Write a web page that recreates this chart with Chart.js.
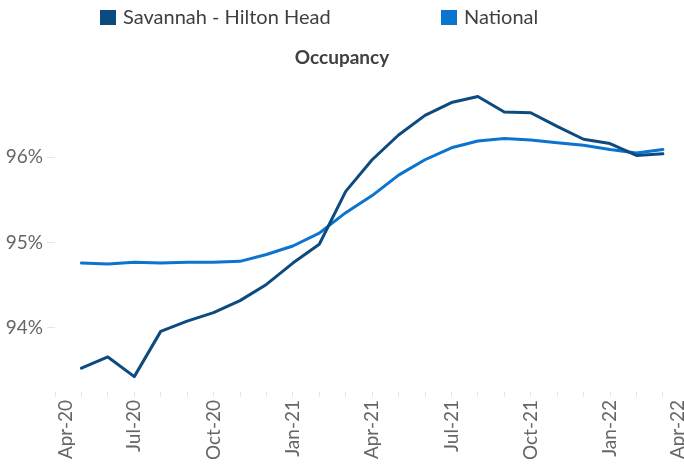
<!DOCTYPE html>
<html>
<head>
<meta charset="utf-8">
<title>Occupancy</title>
<script src="https://cdn.jsdelivr.net/npm/chart.js@4.4.1/dist/chart.umd.min.js"></script>
<style>
  html, body { margin: 0; padding: 0; background: #fff; overflow: hidden; }
</style>
</head>
<body>
<canvas id="occupancy" width="684" height="465"></canvas>
<script>
// axis runs Apr-20 .. Apr-22, one tick per month
const axisMonths = ['Apr-20', 'May-20', 'Jun-20', 'Jul-20', 'Aug-20', 'Sep-20', 'Oct-20', 'Nov-20', 'Dec-20',
  'Jan-21', 'Feb-21', 'Mar-21', 'Apr-21', 'May-21', 'Jun-21', 'Jul-21', 'Aug-21', 'Sep-21', 'Oct-21',
  'Nov-21', 'Dec-21', 'Jan-22', 'Feb-22', 'Mar-22', 'Apr-22'];

// data covers May-20 .. Mar-22
const periods = axisMonths.slice(1, 24);
const savannahOcc = [93.53, 93.66, 93.43, 93.96, 94.08, 94.18, 94.32, 94.51, 94.76, 94.98, 95.60, 95.97,
  96.26, 96.49, 96.64, 96.71, 96.53, 96.52, 96.36, 96.21, 96.16, 96.02, 96.04];
const nationalOcc = [94.76, 94.75, 94.77, 94.76, 94.77, 94.77, 94.78, 94.86, 94.96, 95.11, 95.35, 95.55,
  95.79, 95.97, 96.11, 96.19, 96.22, 96.20, 96.17, 96.14, 96.09, 96.05, 96.09];
const seriesNames = ['Savannah - Hilton Head', 'National'];
const yTicks = [94, 95, 96];

const FONT = 'Lato, "Open Sans", sans-serif';
const DARK = '#0C4A80';
const BLUE = '#0A74CE';

function points(values) {
  return values.map((v, i) => ({ x: axisMonths.indexOf(periods[i]), y: v }));
}

// Excel style legend: two entries spread across the top
const legendX = [100, 441];
const topLegend = {
  id: 'topLegend',
  afterDraw(chart) {
    const ctx = chart.ctx;
    ctx.save();
    ctx.font = '20px ' + FONT;
    ctx.textBaseline = 'middle';
    ctx.textAlign = 'left';
    chart.data.datasets.forEach((ds, i) => {
      ctx.fillStyle = ds.borderColor;
      ctx.fillRect(legendX[i], 10, 16, 15);
      ctx.fillStyle = '#404040';
      ctx.fillText(ds.label, legendX[i] + 23, 18);
    });
    ctx.restore();
  }
};

const data = {
  datasets: [
    { label: seriesNames[0], data: points(savannahOcc), borderColor: DARK, backgroundColor: DARK },
    { label: seriesNames[1], data: points(nationalOcc), borderColor: BLUE, backgroundColor: BLUE },
  ],
};

const options = {
  responsive: false,
  animation: false,
  devicePixelRatio: 1,
  layout: { padding: { top: 40, left: 0, right: 0, bottom: 0 } },
  elements: {
    line: { borderWidth: 3, tension: 0, borderJoinStyle: 'round', borderCapStyle: 'round' },
    point: { radius: 0, hoverRadius: 0 },
  },
  plugins: {
    legend: { display: false },
    tooltip: { enabled: false },
    title: {
      display: true,
      text: 'Occupancy',
      color: '#404040',
      font: { family: FONT, size: 19, weight: 'bold' },
      padding: { top: 6, bottom: 3 },
    },
  },
  scales: {
    x: {
      type: 'linear',
      min: 0,
      max: 23.8,
      border: { display: false },
      grid: { drawOnChartArea: false, tickLength: 5, tickColor: (c) => Number.isInteger(c.tick.value) ? '#e6e6e6' : 'rgba(0,0,0,0)' },
      afterBuildTicks: (scale) => {
        const ticks = [];
        axisMonths.forEach((m, i) => { if (i <= scale.max) ticks.push({ value: i }); });
        // Excel pulls the end labels inside the plot
        ticks.push({ value: 0.42 }, { value: 23.55 });
        ticks.sort((a, b) => a.value - b.value);
        scale.ticks = ticks;
      },
      afterFit: (scale) => {
        scale.height = 73;
        scale.paddingLeft = 0;
        scale.paddingRight = 0;
      },
      ticks: {
        autoSkip: false,
        minRotation: 90,
        maxRotation: 90,
        padding: 3,
        color: '#666666',
        font: { family: FONT, size: 19 },
        callback: (v) => {
          if (Number.isInteger(v)) return (v % 3 === 0 && v > 0) ? axisMonths[v] : '';
          return axisMonths[Math.round(v)];
        },
      },
    },
    y: {
      min: 93.25,
      max: 97.0,
      border: { display: false },
      grid: { drawOnChartArea: false, tickLength: 8, tickColor: '#e6e6e6' },
      afterBuildTicks: (scale) => { scale.ticks = yTicks.map((v) => ({ value: v })); },
      afterFit: (scale) => { scale.width = 55; },
      ticks: {
        padding: 4,
        color: '#666666',
        font: { family: FONT, size: 19 },
        callback: (v) => v + '%',
      },
    },
  },
};

new Chart(document.getElementById('occupancy'), {
  type: 'line',
  data: data,
  options: options,
  plugins: [topLegend],
});
</script>
</body>
</html>
